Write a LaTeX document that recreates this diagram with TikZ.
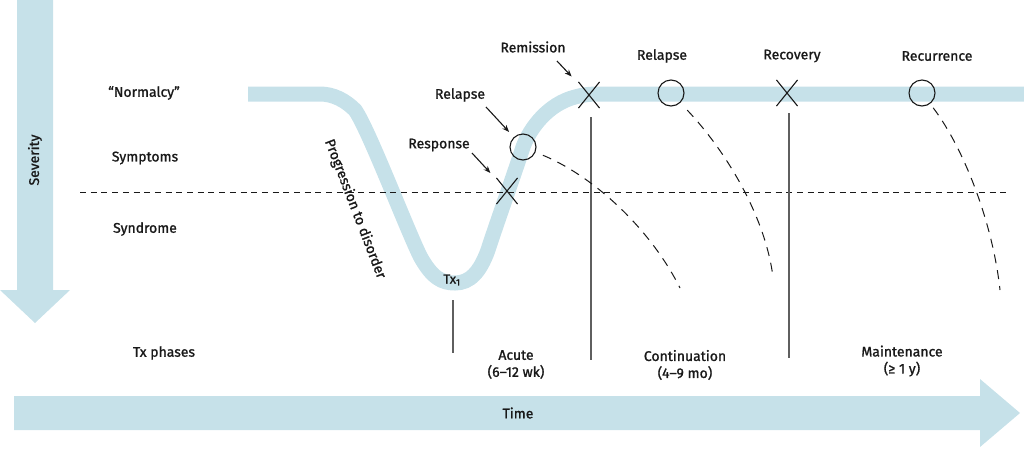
\documentclass[tikz,border=0pt]{standalone}
\usepackage{fontspec}
\setmainfont{Fira Sans}[FakeBold=1.2]
\usetikzlibrary{arrows.meta,shapes.misc}
\definecolor{bandblue}{RGB}{198,225,233}
\definecolor{inkc}{RGB}{25,25,25}
\definecolor{phasegray}{RGB}{95,95,95}
\begin{document}
\begin{tikzpicture}[x=1pt,y=-1pt,
  lbl/.style={font=\fontsize{14}{17}\selectfont, text=inkc, inner sep=0pt, align=center},
  band/.style={draw=bandblue, line width=15pt},
  xmark/.style={cross out, draw=inkc, line width=1.1pt, minimum width=20pt, minimum height=25pt, inner sep=0pt},
  omark/.style={circle, draw=inkc, line width=1.1pt, minimum size=26pt, inner sep=0pt},
  ptr/.style={-{Stealth[length=7pt,width=5.5pt]}, line width=1.1pt, draw=inkc},
  dcurve/.style={dash pattern=on 9pt off 7pt, line width=1pt, draw=inkc},
  dline/.style={dash pattern=on 6pt off 4.7pt, line width=1pt, draw=inkc},
  phase/.style={draw=phasegray, line width=1.3pt},
  bigarrow/.style={fill=bandblue, draw=none}]
\useasboundingbox (0,0) rectangle (1024,448);

% big axis arrows
\fill[bigarrow] (17,0) -- (53,0) -- (53,290) -- (70,290) -- (35,323) -- (0,290) -- (17,290) -- cycle;
\node[lbl, rotate=90] (sev) at (35,160) {Severity};
\fill[bigarrow] (14,396) -- (980,396) -- (980,379) -- (1020,413) -- (980,447) -- (980,430) -- (14,430) -- cycle;
\node[lbl] (time) at (518,413) {Time};

% course band
\draw[band] (248,94) -- (320,94) .. controls (333,94) and (345,100) .. (355,110)
  .. controls (368,128) and (405,225) .. (420,256)
  .. controls (432,278) and (442,283) .. (455,283)
  .. controls (470,283) and (480,272) .. (488,250)
  .. controls (494,231) and (517,166) .. (523,147)
  .. controls (530,128) and (548,104) .. (575,97)
  .. controls (582,95) and (588,94) .. (600,94) -- (1024,94);

% threshold dashed line
\coordinate (dl) at (80,192);
\coordinate (dr) at (1010,192);
\draw[dline] (dl) -- (dr);

% row labels
\node[lbl] (normal) at (144,93) {“Normalcy”};
\node[lbl] (sympt) at (145,158) {Symptoms};
\node[lbl] (syndr) at (145,229) {Syndrome};
\node[lbl] (txph) at (164,353) {Tx phases};

\node[lbl, rotate=-69] (prog) at (355,209) {Progression to disorder};
\node[lbl, font=\fontsize{13}{16}\selectfont] (tx1) at (452,280) {Tx\textsubscript{1}};

% phase lines
\coordinate (p1t) at (453,300); \coordinate (p1b) at (453,353);
\coordinate (p2t) at (591,117); \coordinate (p2b) at (591,360);
\coordinate (p3t) at (789,113); \coordinate (p3b) at (789,358);
\draw[phase] (p1t) -- (p1b);
\draw[phase] (p2t) -- (p2b);
\draw[phase] (p3t) -- (p3b);

% marks
\node[xmark] (resp) at (507,191) {};
\node[omark] (rel1) at (523,147) {};
\node[xmark] (remi) at (589,95) {};
\node[omark] (rel2) at (671,93) {};
\node[xmark] (reco) at (787,93) {};
\node[omark] (recu) at (922,93) {};

% mark labels
\node[lbl] (lremi) at (533,47) {Remission};
\node[lbl] (lrel1) at (460,95) {Relapse};
\node[lbl] (lresp) at (439,145) {Response};
\node[lbl] (lrel2) at (662,56) {Relapse};
\node[lbl] (lreco) at (792,56) {Recovery};
\node[lbl] (lrecu) at (937,56) {Recurrence};

% pointer arrows
\coordinate (aremi) at (557,61);
\coordinate (arel1) at (486,107);
\coordinate (aresp) at (472,153);
\draw[ptr, shorten >=10pt] (aremi) -- (remi);
\draw[ptr, shorten >=7pt] (arel1) -- (rel1);
\draw[ptr, shorten >=9pt] (aresp) -- (resp);

% relapse / recurrence courses
\coordinate (e1) at (680,288);
\coordinate (e2) at (773,277);
\coordinate (e3) at (1000,290);
\draw[dcurve, shorten <=8pt] (rel1) .. controls (593,176) and (650,228) .. (e1);
\draw[dcurve, shorten <=10pt] (rel2) .. controls (725,150) and (765,215) .. (e2);
\draw[dcurve, shorten <=5pt] (recu) .. controls (965,150) and (993,225) .. (e3);

% phase labels
\node[lbl] (acute) at (516,364.5) {Acute\\(6–12 wk)};
\node[lbl] (cont) at (685,365) {Continuation\\(4–9 mo)};
\node[lbl] (maint) at (902,361) {Maintenance\\(≥ 1 y)};
\end{tikzpicture}
\end{document}
